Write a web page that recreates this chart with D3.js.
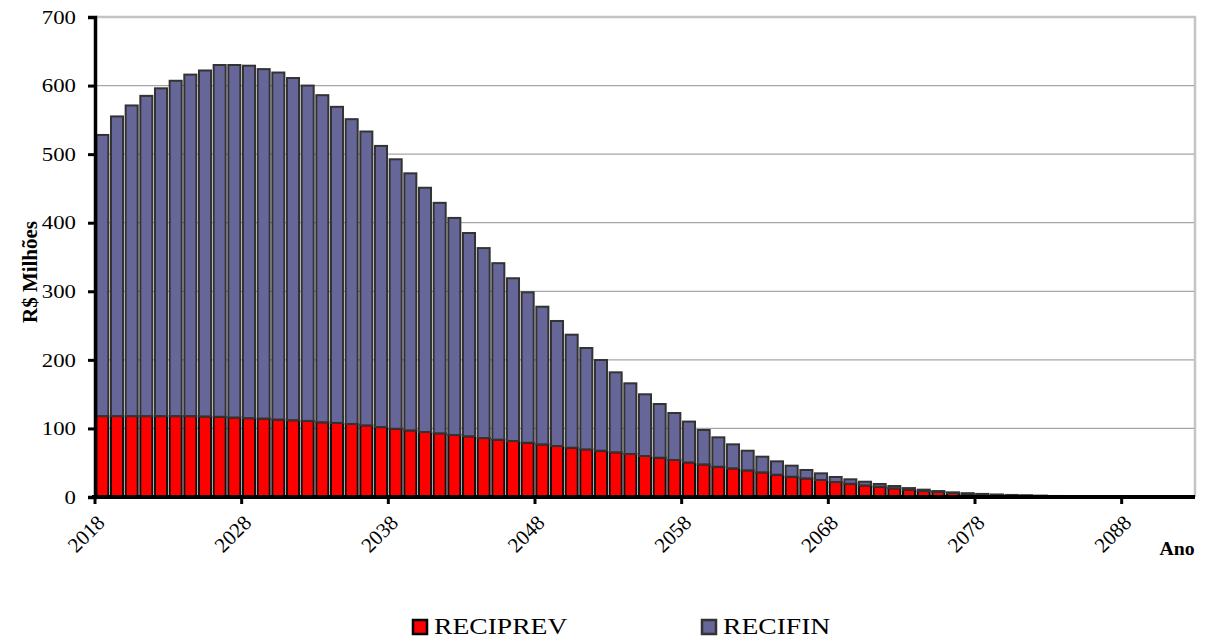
<!DOCTYPE html>
<html>
<head>
<meta charset="utf-8">
<script src="https://cdn.jsdelivr.net/npm/d3@7"></script>
<style>
  html, body { margin: 0; padding: 0; background: #fff; }
  svg { display: block; }
  text { font-family: "Liberation Serif", "Times New Roman", serif; fill: #000; }
</style>
</head>
<body>
<svg id="chart" width="1212" height="640"></svg>
<script>
// ---- data ----
const years = d3.range(2018, 2093); // 2018..2092
const reciprev = [
  118, 118, 118, 118, 118, 118, 118, 117.5, 117, 116,
  115, 114.5, 113, 112, 111, 109, 108, 106.5, 104.5, 102,
  99.6, 97.2, 94.8, 92.9, 90.4, 88.5, 86, 83.6, 81.7, 79.2,
  76.8, 74.4, 71.9, 69.5, 67.5, 65.2, 62.7, 59.8, 57.3, 54,
  50.5, 47.6, 44.2, 41.8, 38.9, 36, 32.5, 29.6, 27.2, 24.8,
  21.9, 19.4, 17, 15, 12.7, 10.7, 8.7, 7.3, 5.8, 4.7,
  3.8, 3.1, 2.5, 2.0, 1.6, 1.3, 1.0, 0.8, 0.6, 0.45,
  0.35, 0.25, 0.18, 0.12, 0.08
];
const recifin = [
  410, 437, 453, 467, 478, 489, 498, 504.5, 513, 514,
  514, 509.5, 506, 499, 489, 477, 461, 444.5, 428.5, 410,
  392.9, 374.8, 356.2, 336.1, 316.6, 296.5, 277, 257.4, 237.3, 219.3,
  200.7, 182.3, 164.8, 147.8, 132.3, 116.6, 103.1, 90, 78.3, 68.5,
  59.5, 50.1, 42.8, 35, 28.6, 22.8, 19.5, 16.1, 12.2, 9.7,
  7.3, 6.4, 5.3, 4, 3.3, 2.3, 2, 1.4, 1, 0.8,
  0.7, 0.5, 0.5, 0.4, 0.3, 0.2, 0.2, 0.1, 0.1, 0.05,
  0.05, 0.05, 0.02, 0.03, 0.02
];
const yTicks = [0, 100, 200, 300, 400, 500, 600, 700];
const xTickYears = [2018, 2028, 2038, 2048, 2058, 2068, 2078, 2088];
const seriesNames = ["RECIPREV", "RECIFIN"];
const seriesColors = ["#ff0000", "#666699"];
const seriesStrokes = ["#111111", "#333333"];
const yTitle = "R$ Milhões";
const xTitle = "Ano";

// ---- layout ----
const L = 95, R = 1195, T = 17, B = 497;
const SX = 1.2; // horizontal text stretch seen in the reference
const svg = d3.select("#chart");

const pad = 0.18;
const x = d3.scaleBand().domain(years).range([L, R]).paddingInner(pad).paddingOuter(pad / 2);
const y = d3.scaleLinear().domain([0, 700]).range([B, T]);
const edge = yr => x(yr) - x.step() * pad / 2;

// gridlines
svg.append("g").selectAll("line").data(yTicks.filter(d => d > 0 && d < 700)).join("line")
  .attr("x1", L).attr("x2", R).attr("y1", d => y(d)).attr("y2", d => y(d))
  .attr("stroke", "#a6a6a6").attr("stroke-width", 1.2);
// plot border (top & right)
svg.append("path")
  .attr("d", `M${L},${y(700)}H${R}V${B}`)
  .attr("fill", "none").attr("stroke", "#c4c4c4").attr("stroke-width", 2.5);

// stacked data
const rows = years.map((yr, i) => ({ year: yr, RECIPREV: reciprev[i], RECIFIN: recifin[i] }));
const stack = d3.stack().keys(seriesNames)(rows);

stack.forEach((layer, li) => {
  svg.append("g").selectAll("rect").data(layer).join("rect")
    .attr("x", d => x(d.data.year))
    .attr("width", x.bandwidth())
    .attr("y", d => y(d[1]))
    .attr("height", d => Math.max(0, y(d[0]) - y(d[1])))
    .attr("fill", seriesColors[li])
    .attr("stroke", seriesStrokes[li])
    .attr("stroke-width", 2);
});

// y axis
const yAxis = svg.append("g").attr("transform", `translate(${L},0)`)
  .call(d3.axisLeft(y).tickValues(yTicks).tickSize(7).tickFormat(""));
yAxis.select(".domain").attr("stroke", "#000").attr("stroke-width", 3.5);
yAxis.selectAll(".tick line").attr("stroke", "#000").attr("stroke-width", 3);
svg.append("g").selectAll("text").data(yTicks).join("text")
  .attr("transform", d => `translate(76,${y(d)}) scale(${SX},1)`)
  .attr("dy", "0.35em")
  .attr("text-anchor", "end")
  .style("font-size", "19px")
  .text(d => d);

// x axis
const xAxisG = svg.append("g");
xAxisG.append("line").attr("x1", L - 3).attr("x2", R).attr("y1", B).attr("y2", B)
  .attr("stroke", "#000").attr("stroke-width", 4);
const xt = xAxisG.selectAll("g.xt").data(xTickYears).join("g").attr("class", "xt")
  .attr("transform", d => `translate(${edge(d)},${B})`);
xt.append("line").attr("y1", 0).attr("y2", 7).attr("stroke", "#000").attr("stroke-width", 3);
xt.append("text").text(d => d)
  .attr("transform", "translate(11,27) rotate(-45)")
  .attr("text-anchor", "end")
  .style("font-size", "21px");

// titles
svg.append("text").text(yTitle)
  .attr("transform", `translate(37,272) rotate(-90)`)
  .attr("text-anchor", "middle")
  .style("font-size", "21px").style("font-weight", "bold");
svg.append("text").text(xTitle)
  .attr("transform", `translate(1177,555) scale(1.1,1)`)
  .attr("text-anchor", "middle")
  .style("font-size", "18px").style("font-weight", "bold");

// legend
const legX = [413, 702];
const leg = svg.append("g").selectAll("g").data(seriesNames).join("g")
  .attr("transform", (d, i) => `translate(${legX[i]},620)`);
leg.append("rect").attr("width", 14).attr("height", 14)
  .attr("fill", (d, i) => seriesColors[i]).attr("stroke", (d, i) => i === 0 ? "#000" : "#333").attr("stroke-width", 2.5);
leg.append("text").text(d => d)
  .attr("transform", `translate(21,14) scale(${SX},1)`)
  .style("font-size", "23px");
</script>
</body>
</html>
